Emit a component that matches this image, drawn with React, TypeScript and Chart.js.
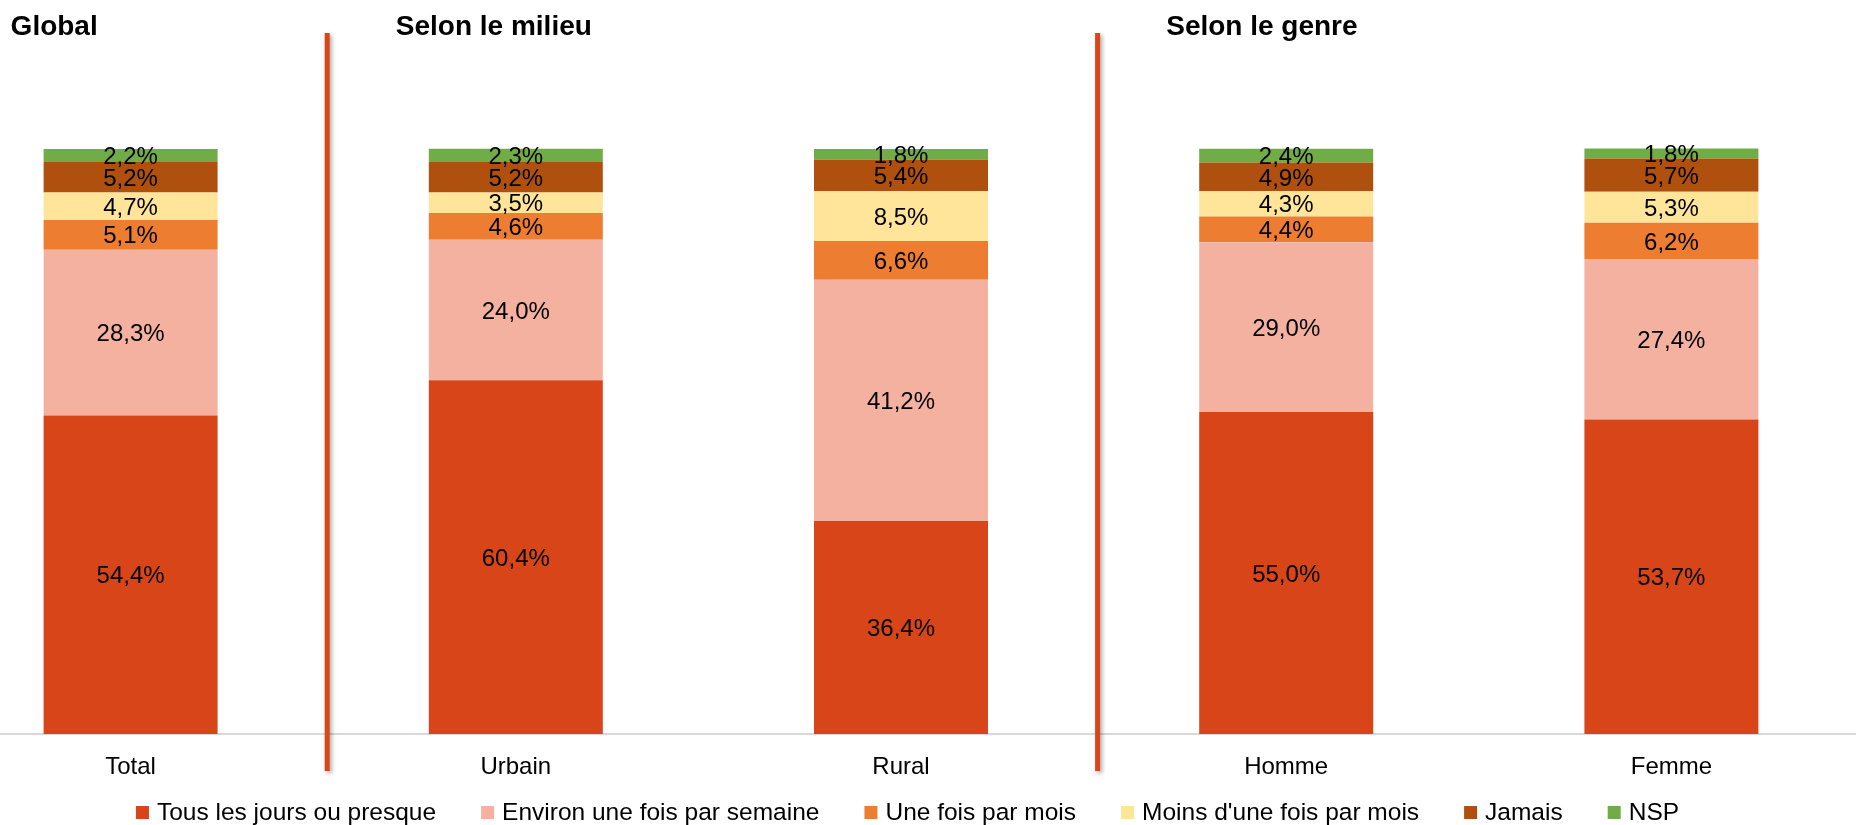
import React, { useEffect, useRef } from 'react';
import { Chart, registerables } from 'chart.js';

Chart.register(...registerables);

// ---------- data ----------
const categories = ['Total', 'Urbain', 'Rural', 'Homme', 'Femme'];
const seriesNames = [
  'Tous les jours ou presque',
  'Environ une fois par semaine',
  'Une fois par mois',
  "Moins d'une fois par mois",
  'Jamais',
  'NSP',
];
const tousLesJours = [54.4, 60.4, 36.4, 55.0, 53.7];
const environSemaine = [28.3, 24.0, 41.2, 29.0, 27.4];
const uneFoisMois = [5.1, 4.6, 6.6, 4.4, 6.2];
const moinsUneFoisMois = [4.7, 3.5, 8.5, 4.3, 5.3];
const jamais = [5.2, 5.2, 5.4, 4.9, 5.7];
const nsp = [2.2, 2.3, 1.8, 2.4, 1.8];
const groupTitles = ['Global', 'Selon le milieu', 'Selon le genre'];
const groupStartIndex = [0, 1, 3];
const dividerAfterIndex = [0, 2];

// ---------- styles ----------
const FONT = "'Liberation Sans', Arial, Helvetica, sans-serif";
const colors = ['#D84519', '#F4B19F', '#ED7D31', '#FFE599', '#B0500F', '#70AD47'];
const DIVIDER_COLOR = '#D9461A';
const CANVAS_W = 1926;
const CANVAS_H = 825;
const CANVAS_LEFT = -62;

const seriesValues = [tousLesJours, environSemaine, uneFoisMois, moinsUneFoisMois, jamais, nsp];

const fmt = (v: number) => v.toFixed(1).replace('.', ',') + '%';

const overlayPlugin = {
  id: 'overlay',
  afterDatasetsDraw(chart: any) {
    const { ctx } = chart;
    ctx.save();
    ctx.font = `24px ${FONT}`;
    ctx.fillStyle = '#000';
    ctx.textAlign = 'center';
    ctx.textBaseline = 'middle';
    chart.data.datasets.forEach((ds: any, di: number) => {
      const meta = chart.getDatasetMeta(di);
      meta.data.forEach((el: any, i: number) => {
        const v = ds.data[i];
        const cy = (el.y + el.base) / 2;
        ctx.fillText(fmt(v), el.x, cy + 2);
      });
    });
    ctx.restore();
  },
  afterDraw(chart: any) {
    const { ctx, chartArea } = chart;
    const xs = chart.scales.x;
    ctx.save();
    // group titles
    ctx.font = `bold 28px ${FONT}`;
    ctx.fillStyle = '#000';
    ctx.textAlign = 'left';
    ctx.textBaseline = 'alphabetic';
    groupTitles.forEach((t, gi) => {
      const px = xs.getPixelForValue(groupStartIndex[gi]) - 120;
      ctx.fillText(t, px, 35);
    });

    // legend
    const boxSize = 13;
    const gapBoxText = 8;
    const gapItems = 45;
    ctx.font = `24.5px ${FONT}`;
    ctx.textBaseline = 'middle';
    const widths = seriesNames.map((n) => ctx.measureText(n).width);
    const total =
      widths.reduce((a, w) => a + boxSize + gapBoxText + w, 0) + gapItems * (seriesNames.length - 1);
    const center = (chartArea.left + chartArea.right) / 2 + 6.5;
    let x = center - total / 2;
    const ly = 812.5;
    seriesNames.forEach((n, i) => {
      ctx.fillStyle = colors[i];
      ctx.fillRect(x, ly - boxSize / 2, boxSize, boxSize);
      ctx.fillStyle = '#000';
      ctx.fillText(n, x + boxSize + gapBoxText, ly + 1);
      x += boxSize + gapBoxText + widths[i] + gapItems;
    });

    // dividers
    ctx.strokeStyle = DIVIDER_COLOR;
    ctx.lineWidth = 5;
    ctx.shadowColor = 'rgba(0,0,0,0.35)';
    ctx.shadowBlur = 4;
    ctx.shadowOffsetX = 2;
    ctx.shadowOffsetY = 2;
    dividerAfterIndex.forEach((idx) => {
      const a = xs.getPixelForValue(idx);
      const b = xs.getPixelForValue(idx + 1);
      const dx = (a + b) / 2 + 4;
      ctx.beginPath();
      ctx.moveTo(dx, 33);
      ctx.lineTo(dx, 771);
      ctx.stroke();
    });
    ctx.restore();
  },
};

export default function App() {
  const ref = useRef<HTMLCanvasElement>(null);

  useEffect(() => {
    if (!ref.current) return;
    Chart.defaults.font.family = FONT;
    const chart = new Chart(ref.current, {
      type: 'bar',
      data: {
        labels: categories,
        datasets: seriesNames.map((name, i) => ({
          label: name,
          data: seriesValues[i],
          backgroundColor: colors[i],
          borderWidth: 0,
          barPercentage: 0.4517,
          categoryPercentage: 1,
        })),
      },
      options: {
        animation: false,
        responsive: false,
        maintainAspectRatio: false,
        devicePixelRatio: 1,
        layout: { padding: { top: 148.5, left: 0, right: 0, bottom: 31 } },
        scales: {
          x: {
            stacked: true,
            grid: { display: false },
            border: { display: true, color: '#D9D9D9', width: 2 },
            ticks: { color: '#000', font: { size: 24, family: FONT }, padding: 11, autoSkip: false, maxRotation: 0 },
            afterFit: (s: any) => {
              s.height = 60;
            },
          },
          y: {
            stacked: true,
            min: 0,
            max: 100,
            display: false,
          },
        },
        plugins: {
          legend: { display: false },
          tooltip: { enabled: false },
        },
      },
      plugins: [overlayPlugin],
    } as any);
    return () => chart.destroy();
  }, []);

  return (
    <div
      style={{
        position: 'absolute',
        left: 0,
        top: 0,
        width: 1856,
        height: 825,
        overflow: 'hidden',
        background: '#fff',
      }}
    >
      <canvas
        ref={ref}
        width={CANVAS_W}
        height={CANVAS_H}
        style={{ position: 'absolute', left: CANVAS_LEFT, top: 0, width: CANVAS_W, height: CANVAS_H }}
      />
    </div>
  );
}
